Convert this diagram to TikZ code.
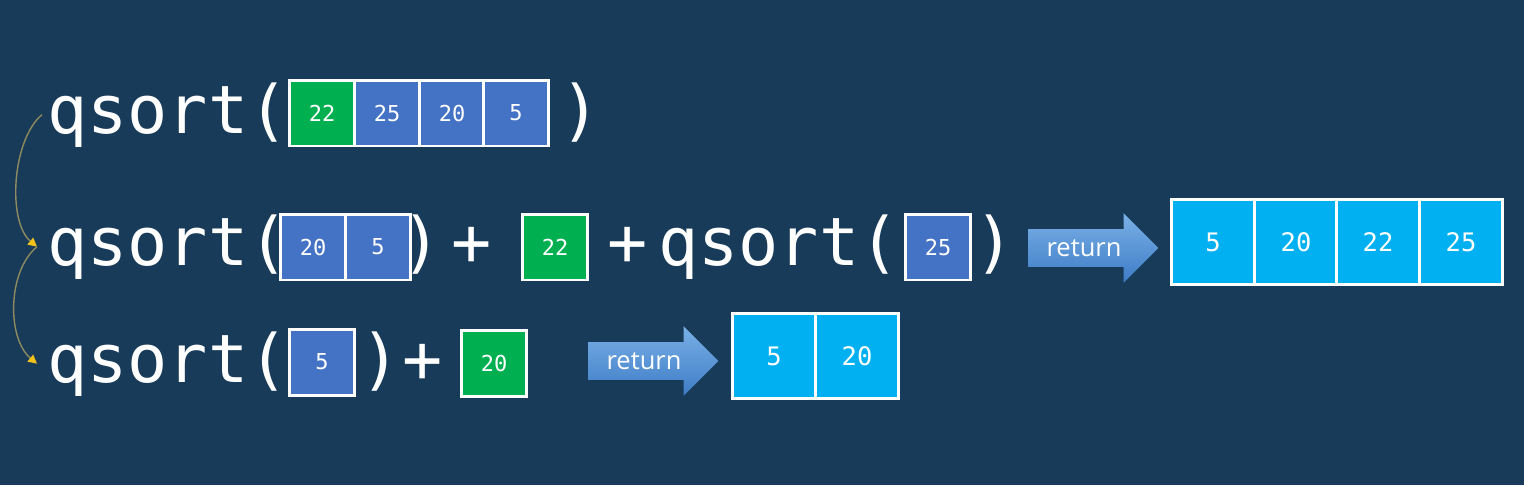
\documentclass[tikz,border=0pt]{standalone}
\usepackage{fontspec}
\setmonofont{DejaVu Sans Mono}
\setsansfont{Open Sans}
\usepackage{tikz}
\usetikzlibrary{arrows.meta,shapes.arrows}

\definecolor{bgnavy}{HTML}{173B59}
\definecolor{cellblue}{HTML}{4472C4}
\definecolor{cellgreen}{HTML}{00B050}
\definecolor{cellcyan}{HTML}{00B0F0}
\definecolor{arrowtop}{HTML}{7AB0E6}
\definecolor{arrowbottom}{HTML}{3D7CC6}
\definecolor{curveline}{HTML}{8C8A5E}
\definecolor{tipyellow}{HTML}{F2C21B}

\tikzset{
  call/.style={text=white,inner sep=0pt,font=\ttfamily\fontsize{38}{38}\selectfont},
  cell/.style={draw=white,line width=1.7pt,outer sep=0pt,inner sep=0pt,
    minimum width=1.3cm,minimum height=1.32cm,text=white,
    font=\ttfamily\fontsize{12.5}{12.5}\selectfont},
  bluecell/.style={cell,fill=cellblue},
  greencell/.style={cell,fill=cellgreen},
  resultcell/.style={cell,fill=cellcyan,minimum width=1.65cm,minimum height=1.7cm,
    font=\ttfamily\fontsize{14.5}{14.5}\selectfont},
  retarrow/.style={single arrow,single arrow head extend=0.32cm,minimum height=2.6cm,
    inner ysep=0.2cm,draw=none,top color=arrowtop,bottom color=arrowbottom,
    text=white,font=\sffamily\fontsize{14.5}{14.5}\selectfont},
  recurse/.style={curveline,line width=0.8pt,-{Triangle[length=5pt,width=5pt,color=tipyellow]}}
}

\begin{document}
\begin{tikzpicture}[x=0.02cm,y=-0.02cm]
\fill[bgnavy] (0,0) rectangle (1524,485);

% qsort of the whole list
\node[call,anchor=base west] (qa) at (47,133) {qsort(};
\node[greencell] (a1) at (322,113) {22};
\node[bluecell] (a2) at (387,113) {25};
\node[bluecell] (a3) at (452,113) {20};
\node[bluecell] (a4) at (516,113) {5};
\node[call,anchor=base] (ca) at (581,133) {)};

% first split
\node[call,anchor=base west] (qb) at (47,265) {qsort(};
\node[bluecell] (b1) at (313,247) {20};
\node[bluecell] (b2) at (378,247) {5};
\node[call,anchor=base] (cb) at (422,265) {)};
\node[call,anchor=base] (pb) at (472,265) {+};
\node[greencell] (b3) at (555,247) {22};
\node[call,anchor=base] (pc) at (628,265) {+};
\node[call,anchor=base west] (qc) at (658,265) {qsort(};
\node[bluecell] (c1) at (938,247) {25};
\node[call,anchor=base] (cc) at (995,265) {)};
\node[retarrow] (rb) at (1084,248) {return};
\node[resultcell] (sb1) at (1213,242) {5};
\node[resultcell] (sb2) at (1296,242) {20};
\node[resultcell] (sb3) at (1378,242) {22};
\node[resultcell] (sb4) at (1461,242) {25};

% second split
\node[call,anchor=base west] (qd) at (47,382) {qsort(};
\node[bluecell] (d1) at (322,362) {5};
\node[call,anchor=base] (cd) at (381,382) {)};
\node[call,anchor=base] (pd) at (423,382) {+};
\node[greencell] (d2) at (494,363) {20};
\node[retarrow] (rd) at (644,361) {return};
\node[resultcell] (sd1) at (774,356) {5};
\node[resultcell] (sd2) at (857,356) {20};

% recursion curves
\draw[recurse] ([xshift=-0.1cm]qa.west) .. controls +(-30,25) and +(-30,-25) .. ([xshift=-0.2cm]qb.west);
\draw[recurse] ([xshift=-0.2cm]qb.west) .. controls +(-30,25) and +(-30,-25) .. ([xshift=-0.2cm]qd.west);
\end{tikzpicture}
\end{document}
